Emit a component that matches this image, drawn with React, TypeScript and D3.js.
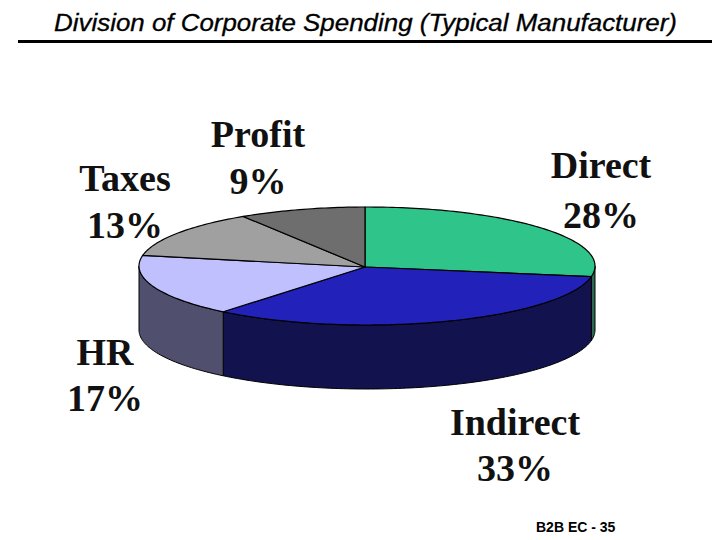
import React from 'react';
import * as d3 from 'd3';

const width = 720;
const height = 540;

const categories = ['Direct', 'Indirect', 'HR', 'Taxes', 'Profit'];
const shares = [28, 33, 17, 13, 9];

const topColors = ['#2ec48a', '#2222bb', '#c0c0ff', '#a0a0a0', '#6e6e6e'];
const wallColors = ['#2a6a50', '#12124f', '#50506e', '#505050', '#383838'];

// label centre x, name baseline, value baseline
const labelPos = [
    [601, 178, 228],
    [515, 435, 481],
    [105, 365, 411],
    [125, 191, 238],
    [258, 147, 194],
];

const cx = 367;
const cy = 266;
const apexX = 365;
const apexY = 267;
const rx = 228;
const ry = 59;
const depth = 64;

const xScale = d3.scaleLinear().domain([-1, 1]).range([cx - rx, cx + rx]);
const yScale = d3.scaleLinear().domain([-1, 1]).range([cy - ry, cy + ry]);

// first slice starts a touch left of 12 o'clock, like the original
const startAngle = -0.0088;
const pie = d3.pie<number>().sort(null).startAngle(startAngle).endAngle(startAngle + 2 * Math.PI);
const slices = pie(shares);

const line = d3.line<[number, number]>();

// points on the rim between two angles, 0 is 12 o'clock and going clockwise
function rim(a0: number, a1: number, drop = 0): [number, number][] {
    const n = Math.max(2, Math.ceil(Math.abs(a1 - a0) / 0.02));
    return d3.range(n + 1).map((i) => {
        const a = a0 + ((a1 - a0) * i) / n;
        return [xScale(Math.sin(a)), yScale(-Math.cos(a)) + drop] as [number, number];
    });
}

function topPath(a0: number, a1: number) {
    return line([[apexX, apexY], ...rim(a0, a1)]) + 'Z';
}

function wallPath(a0: number, a1: number) {
    // only the front half of the pie shows a wall
    const s = Math.max(a0, Math.PI / 2);
    const e = Math.min(a1, (3 * Math.PI) / 2);
    if (e <= s) return null;
    return line([...rim(s, e), ...rim(e, s, depth)]) + 'Z';
}

const labelStyle: React.CSSProperties = {
    fontFamily: '"Liberation Serif", serif',
    fontWeight: 700,
    fontSize: 38,
    fill: '#111',
};

export default function App() {
    return (
        <svg
            width={width}
            height={height}
            viewBox={`0 0 ${width} ${height}`}
            style={{ position: 'absolute', left: 0, top: 0, background: '#fff' }}
        >
            <text
                x={54}
                y={31}
                textLength={623}
                lengthAdjust="spacingAndGlyphs"
                stroke="#000"
                strokeWidth={0.3}
                style={{ fontFamily: '"Liberation Sans", sans-serif', fontStyle: 'italic', fontSize: 23, fill: '#000' }}
            >
                Division of Corporate Spending (Typical Manufacturer)
            </text>
            <rect x={18} y={40} width={694} height={3} fill="#000" />

            {slices.map((d, i) => {
                const p = wallPath(d.startAngle, d.endAngle);
                return p ? <path key={i} d={p} fill={wallColors[i]} stroke="#000" strokeWidth={1} /> : null;
            })}
            {slices.map((d, i) => (
                <path
                    key={i}
                    d={topPath(d.startAngle, d.endAngle)}
                    fill={topColors[i]}
                    stroke="#000"
                    strokeWidth={1.2}
                    strokeLinejoin="round"
                />
            ))}

            {categories.map((name, i) => (
                <g key={name} textAnchor="middle" style={labelStyle}>
                    <text x={labelPos[i][0]} y={labelPos[i][1]}>{name}</text>
                    <text x={labelPos[i][0]} y={labelPos[i][2]}>{shares[i]}%</text>
                </g>
            ))}

            <text
                x={536}
                y={532}
                style={{ fontFamily: '"Liberation Sans", sans-serif', fontWeight: 700, fontSize: 14, fill: '#000' }}
            >
                B2B EC - 35
            </text>
        </svg>
    );
}
